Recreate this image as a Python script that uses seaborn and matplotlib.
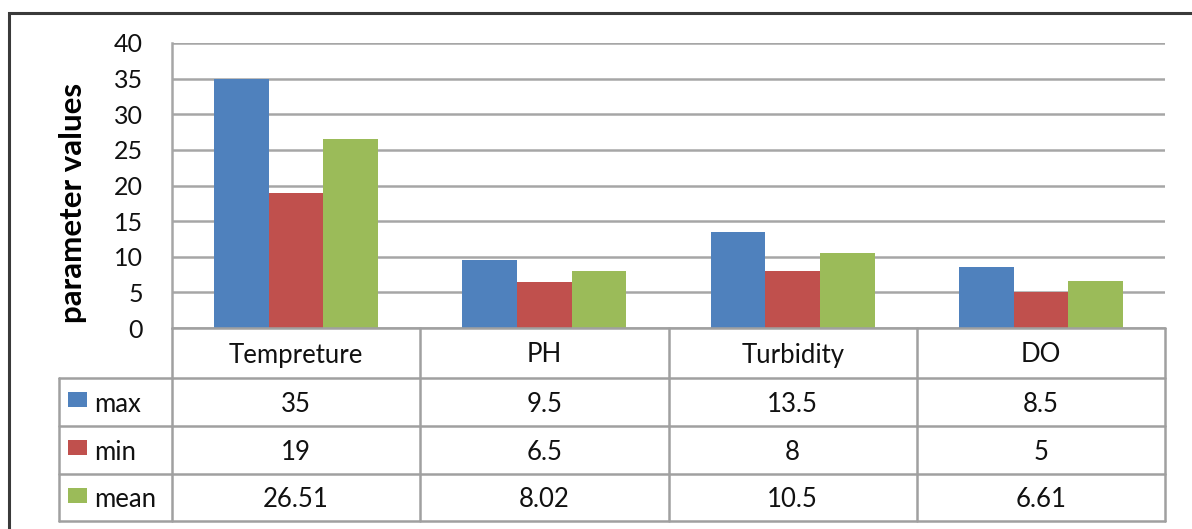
import matplotlib
matplotlib.use("Agg")
import matplotlib.pyplot as plt
import seaborn as sns
import pandas as pd
from matplotlib.patches import Rectangle

categories = ["Tempreture", "PH", "Turbidity", "DO"]
series_names = ["max", "min", "mean"]
max_vals = [35, 9.5, 13.5, 8.5]
min_vals = [19, 6.5, 8, 5]
mean_vals = [26.51, 8.02, 10.5, 6.61]
table_labels = [["35", "9.5", "13.5", "8.5"],
                ["19", "6.5", "8", "5"],
                ["26.51", "8.02", "10.5", "6.61"]]
colors = ["#4F81BD", "#C0504D", "#9BBB59"]
yticks = [0, 5, 10, 15, 20, 25, 30, 35, 40]

rows = []
for name, vals in zip(series_names, [max_vals, min_vals, mean_vals]):
    for c, v in zip(categories, vals):
        rows.append({"param": c, "stat": name, "value": v})
df = pd.DataFrame(rows)

sns.set_theme(style="white")
plt.rcParams["font.family"] = ["Lato", "DejaVu Sans"]

W, H = 1192, 529
fig = plt.figure(figsize=(W / 100, H / 100), dpi=100)
fig.patch.set_facecolor("white")

def px_axes(x0, y0, x1, y1):
    return fig.add_axes([x0 / W, 1 - y1 / H, (x1 - x0) / W, (y1 - y0) / H])

# outer border
fig.patches.append(Rectangle((9 / W, -0.05), 1.2, 1 - 13 / H + 0.05,
                             transform=fig.transFigure, fill=False,
                             edgecolor="#3a3a3a", linewidth=2.2))

PL, PR, PT, PB = 172, 1165, 43, 328
ax = px_axes(PL, PT, PR, PB)
sns.barplot(data=df, x="param", y="value", hue="stat", palette=colors,
            width=0.66, ax=ax, legend=False, saturation=1, linewidth=0, errorbar=None)
ax.set_xlim(-0.5, len(categories) - 0.5)
ax.set_ylim(0, 40)
ax.set_yticks(yticks)
ax.set_yticklabels([str(t) for t in yticks], fontsize=18, color="#111111")
ax.tick_params(axis="y", length=0, pad=21)
ax.set_xticks([])
ax.set_xlabel("")
ax.set_ylabel("parameter values", fontsize=22.5, fontweight="bold", color="black")
ax.yaxis.set_label_coords(-0.086, 0.44)
ax.grid(axis="y", color="#a6a6a6", linewidth=1.8)
ax.set_axisbelow(True)
for s in ["top", "right", "bottom"]:
    ax.spines[s].set_visible(False)
ax.spines["left"].set_color("#a6a6a6")
ax.spines["left"].set_linewidth(1.8)

# data table
TL = 59
tax = px_axes(0, 0, W, H)
tax.set_xlim(0, W)
tax.set_ylim(H, 0)
tax.axis("off")
lc = "#a0a0a0"
lw = 1.8
row_y = [328, 378, 426, 474, 521]
cat_w = (PR - PL) / len(categories)
col_x = [PL + i * cat_w for i in range(len(categories) + 1)]
tax.plot([PL, PR], [row_y[0], row_y[0]], color=lc, lw=lw)
for y in row_y[1:]:
    tax.plot([TL, PR], [y, y], color=lc, lw=lw)
for x in col_x:
    tax.plot([x, x], [row_y[0], row_y[-1]], color=lc, lw=lw)
tax.plot([TL, TL], [row_y[1], row_y[-1]], color=lc, lw=lw)

fs = 18.5
for i, c in enumerate(categories):
    cx = (col_x[i] + col_x[i + 1]) / 2
    tax.text(cx, (row_y[0] + row_y[1]) / 2 + 2, c, ha="center", va="center",
             fontsize=fs, color="#111111")
    for r in range(3):
        tax.text(cx, (row_y[r + 1] + row_y[r + 2]) / 2 + 2, table_labels[r][i],
                 ha="center", va="center", fontsize=fs, color="#111111")
for r, (name, col) in enumerate(zip(series_names, colors)):
    yc = (row_y[r + 1] + row_y[r + 2]) / 2
    tax.add_patch(Rectangle((68, yc - 10), 19, 15, facecolor=col, edgecolor="none"))
    tax.text(94, yc + 2, name, ha="left", va="center", fontsize=fs, color="#111111")

fig.savefig("out.png", dpi=100)
